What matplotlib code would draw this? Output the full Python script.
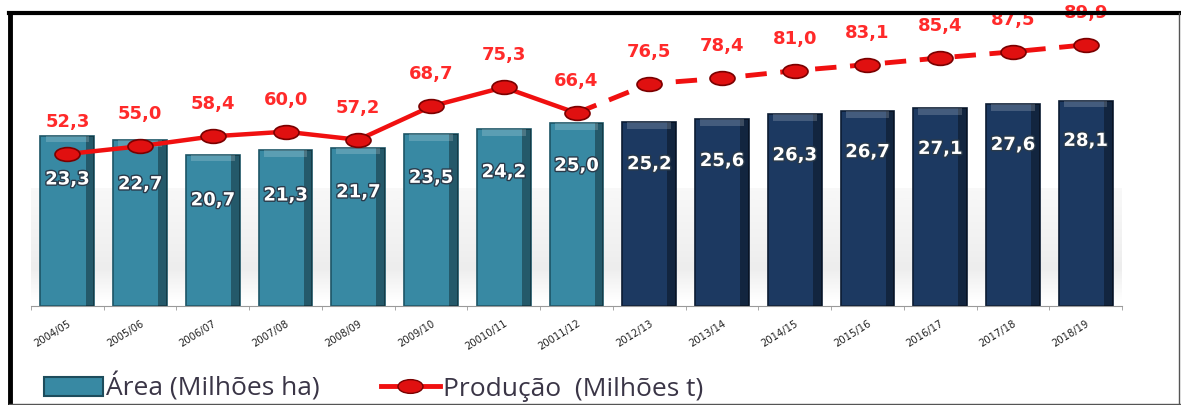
import numpy as np
import matplotlib.pyplot as plt
import matplotlib.patheffects as pe
from matplotlib.lines import Line2D
from matplotlib.patches import Patch
from matplotlib.path import Path

# data
safras = ['2004/05', '2005/06', '2006/07', '2007/08', '2008/09', '2009/10', '20010/11',
          '20011/12', '2012/13', '2013/14', '2014/15', '2015/16', '2016/17', '2017/18', '2018/19']
area = [23.3, 22.7, 20.7, 21.3, 21.7, 23.5, 24.2, 25.0, 25.2, 25.6, 26.3, 26.7, 27.1, 27.6, 28.1]
producao = [52.3, 55.0, 58.4, 60.0, 57.2, 68.7, 75.3, 66.4, 76.5, 78.4, 81.0, 83.1, 85.4, 87.5, 89.9]
n_hist = 8  # 2004/05 .. 2011/12 observed, rest projected

teal = '#3889a3'
navy = '#1c3961'
red = '#f01010'
lbl_red = '#ff2a2a'

# ellipse shaped marker (wider than tall)
circ = Path.unit_circle()
ellipse = Path(circ.vertices * np.array([1.0, 0.55]), circ.codes)

x = np.arange(len(safras))

fig = plt.figure(figsize=(11.81, 4.05), dpi=100)
ax = fig.add_axes([31/1181, 1-306/405, 1091/1181, 276/405])
ax2 = ax.twinx()

# faint grey shadow behind the bars
grad = np.concatenate([np.linspace(0, 1, 30), np.linspace(1, 0.4, 70)])[:, None]
ax.imshow(grad, extent=(-0.5, 14.5, 0.5, 16), aspect='auto', cmap='Greys',
          vmin=0, vmax=7, origin='lower', zorder=0)

colors = [teal if i < n_hist else navy for i in range(len(x))]
edges = ['#1d5566' if i < n_hist else '#0c1c33' for i in range(len(x))]
ax.bar(x, area, width=0.74, color=colors, edgecolor=edges, linewidth=1.2, zorder=2)
# darker right side and light top cap for a cylinder look
ax.bar(x + 0.31, area, width=0.12, color='black', alpha=0.35, linewidth=0, zorder=3)
ax.bar(x, [0.9] * len(x), bottom=np.array(area) - 0.9, width=0.6,
       color='white', alpha=0.18, linewidth=0, zorder=3)

for xi, v in zip(x, area):
    ax.text(xi, 1.1 * v - 8.3, f'{v:.1f}'.replace('.', ','), ha='center', va='center',
            color='white', fontsize=13, fontweight='bold', zorder=5,
            path_effects=[pe.withStroke(linewidth=2, foreground='#2a3a4a')])

ax.set_xlim(-0.5, 14.5)
ax.set_ylim(0, 37.8)
ax2.set_ylim(0, 95)

# production line: solid for observed, dashed for projection
ax2.plot(x[:n_hist], producao[:n_hist], color=red, lw=3.2, solid_capstyle='round', zorder=4)
ax2.plot(x[n_hist-1:], producao[n_hist-1:], color=red, lw=3.5, dashes=(4.4, 2.8), zorder=4)
ax2.plot(x, producao, ls='none', marker=ellipse, ms=18, mfc='#e01010',
         mec='#7a0000', mew=1.2, zorder=5)

for xi, v in zip(x, producao):
    ax2.annotate(f'{v:.1f}'.replace('.', ','), (xi, v), xytext=(0, 23),
                 textcoords='offset points', ha='center', va='center',
                 color=lbl_red, fontsize=13, fontweight='bold', annotation_clip=False)

# axes styling
for a in (ax, ax2):
    for s in ('top', 'right', 'left'):
        a.spines[s].set_visible(False)
    a.set_yticks([])
ax2.spines['bottom'].set_visible(False)
ax.spines['bottom'].set_color('#9a9a9a')
ax.set_xticks(x)
ax.set_xticklabels(safras, rotation=32, ha='right', rotation_mode='anchor',
                   fontsize=7.2, color='#222222')
ax.tick_params(axis='x', length=0, pad=9)
ax.set_xticks(np.arange(-0.5, 15, 1), minor=True)
ax.tick_params(axis='x', which='minor', length=3, color='#9a9a9a')

# legend
h1 = Patch(facecolor=teal, edgecolor='#1d4c5c', linewidth=1.5)
h2 = Line2D([], [], color=red, lw=3.5, marker=ellipse, ms=18, mfc='#e01010', mec='#7a0000')
fig.legend([h1, h2], ['Área (Milhões ha)', 'Produção  (Milhões t)'], loc='lower left',
           bbox_to_anchor=(0.017, -0.05), ncol=2, frameon=False,
           prop={'family': 'Open Sans', 'size': 19}, labelcolor='#3a3546',
           handlelength=2.25, handletextpad=0.12, columnspacing=2.3, handleheight=0.7)

# frame
fig.add_artist(Line2D([0.008, 0.999], [1-13/405, 1-13/405], transform=fig.transFigure,
                      color='black', lw=3, zorder=10))
fig.add_artist(Line2D([0.0085, 0.0085], [0, 1-13/405], transform=fig.transFigure,
                      color='black', lw=3.5, zorder=10))
fig.add_artist(Line2D([0.998, 0.998], [0, 1-13/405], transform=fig.transFigure,
                      color='#555555', lw=1, zorder=10))
fig.add_artist(Line2D([0.008, 0.999], [0.003, 0.003], transform=fig.transFigure,
                      color='#555555', lw=1, zorder=10))

fig.savefig('out.png', dpi=100)
